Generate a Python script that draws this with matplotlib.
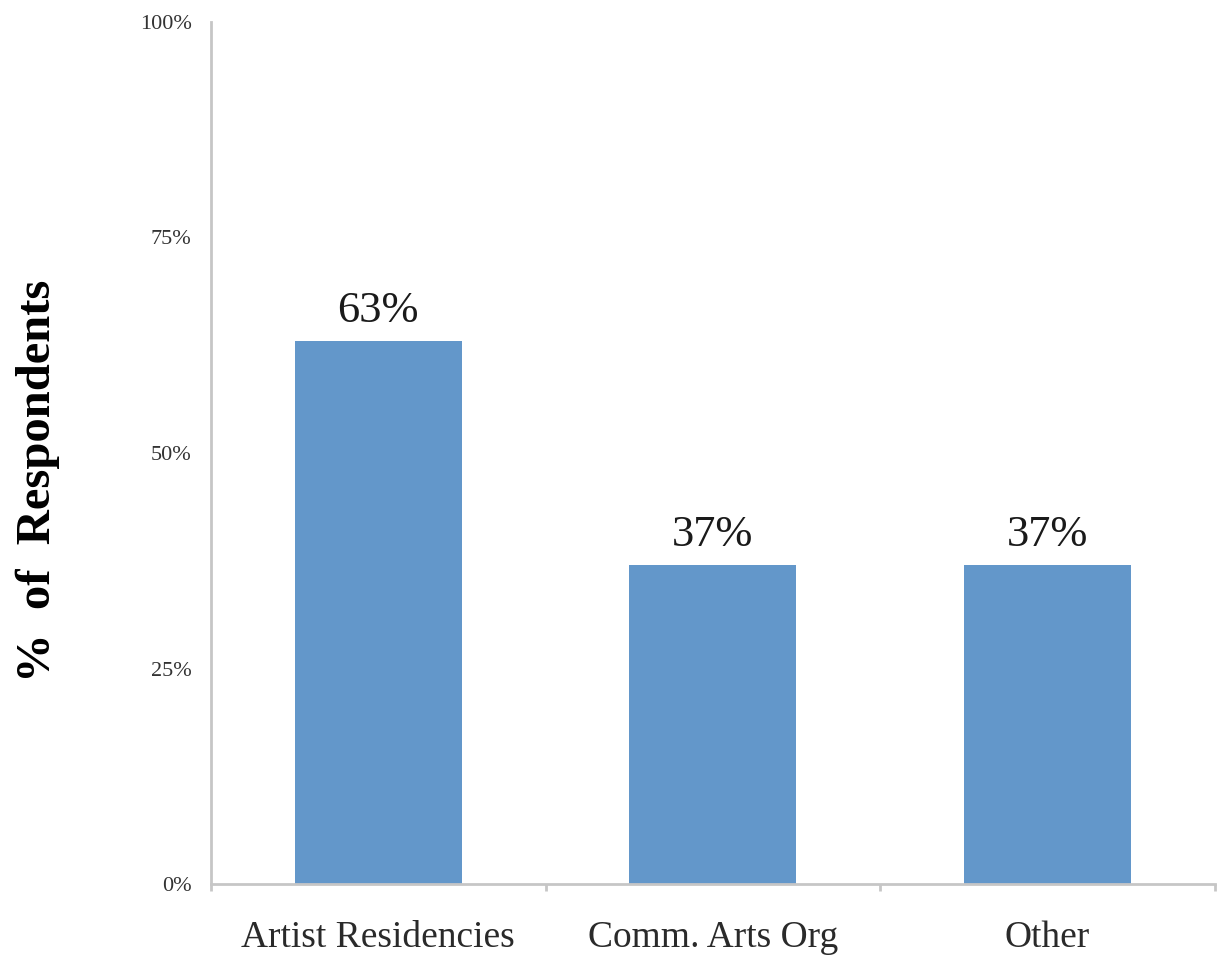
import matplotlib.pyplot as plt
import numpy as np

plt.rcParams["font.family"] = ["Liberation Serif", "DejaVu Serif"]

categories = ["Artist Residencies", "Comm. Arts Org", "Other"]
values = [63, 37, 37]
yticks = [0, 25, 50, 75, 100]
ytick_labels = ["0%", "25%", "50%", "75%", "100%"]

BAR_COLOR = "#6397ca"
SPINE_COLOR = "#c6c6c6"

fig = plt.figure(figsize=(12.17, 9.55), dpi=100)
ax = fig.add_axes([0.1734, 0.0743, 0.8246, 0.9027])

x = np.arange(len(categories))
bars = ax.bar(x, values, 0.5, color=BAR_COLOR, zorder=2)

for xi, v in zip(x, values):
    ax.text(xi, v + 1.2, f"{v}%", ha="center", va="bottom",
            fontsize=32, color="#1a1a1a")

ax.set_xlim(-0.5, len(categories) - 0.5)
ax.set_ylim(0, 100)

ax.set_yticks(yticks)
ax.set_yticklabels(ytick_labels, fontsize=16, color="#333333")
ax.tick_params(axis="y", length=0, pad=14)

ax.set_xticks(x)
ax.set_xticklabels(categories, fontsize=27, color="#2a2a2a")
ax.tick_params(axis="x", which="major", length=0, pad=26)
ax.set_xticks(np.arange(-0.5, len(categories)), minor=True)
ax.tick_params(axis="x", which="minor", length=5, width=2, color=SPINE_COLOR)

for side in ("top", "right"):
    ax.spines[side].set_visible(False)
for side in ("left", "bottom"):
    ax.spines[side].set_color(SPINE_COLOR)
    ax.spines[side].set_linewidth(2)

ax.set_ylabel("%  of  Respondents", fontsize=35, fontweight="bold")
ax.yaxis.set_label_coords(-0.150, 0.4675)

fig.savefig("out.png", dpi=100)
